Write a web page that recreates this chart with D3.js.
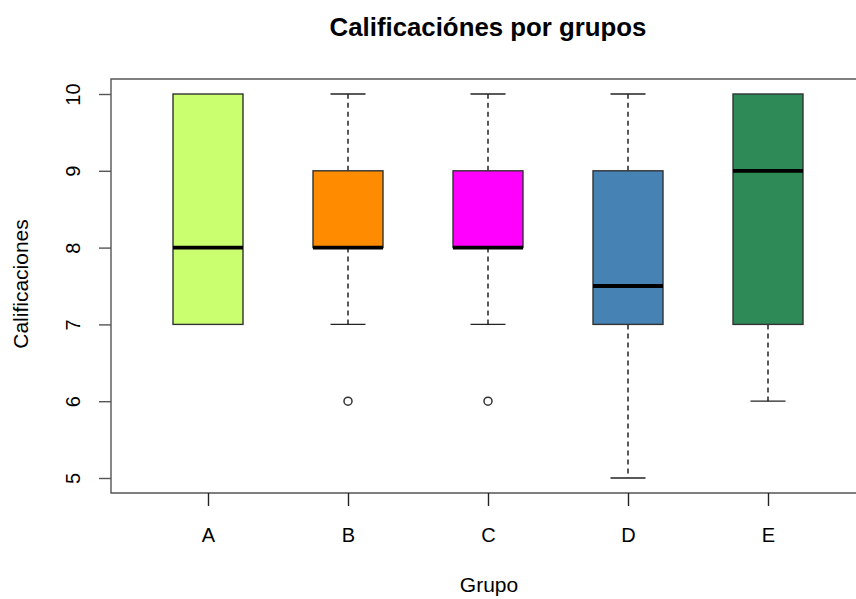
<!DOCTYPE html>
<html><head><meta charset="utf-8">
<script src="https://cdn.jsdelivr.net/npm/d3@7"></script>
<style>body{margin:0;background:#fff}svg{display:block}text{font-family:"Liberation Sans",Arial,sans-serif}</style>
</head><body>
<svg id="c" width="856" height="599"></svg>
<script>
const groups = ["A","B","C","D","E"];
const lowWhisker = [7,7,7,5,6];
const q1 = [7,8,8,7,7];
const median = [8,8,8,7.5,9];
const q3 = [10,9,9,9,10];
const highWhisker = [10,10,10,10,10];
const outliers = [[],[6],[6],[],[]];
const colors = ["#CAFF70","#FF8C00","#FF00FF","#4682B4","#2E8B57"];
const yTicks = [5,6,7,8,9,10];

const svg = d3.select("#c");
const L=111, R=858, T=79, B=493;
const x = d3.scalePoint().domain(groups).range([208,768]);
const y = d3.scaleLinear().domain([5,10]).range([478,94]);
const bw = 70, cw = 35;

groups.forEach((g,i)=>{
  const cx = x(g);
  const gg = svg.append("g");
  if (lowWhisker[i] < q1[i]) {
    gg.append("line").attr("x1",cx).attr("x2",cx).attr("y1",y(q1[i])).attr("y2",y(lowWhisker[i]))
      .attr("stroke","#000").attr("stroke-width",1.3).attr("stroke-dasharray","5,4");
    gg.append("line").attr("x1",cx-cw/2).attr("x2",cx+cw/2).attr("y1",y(lowWhisker[i])).attr("y2",y(lowWhisker[i]))
      .attr("stroke","#222").attr("stroke-width",1.3);
  }
  if (highWhisker[i] > q3[i]) {
    gg.append("line").attr("x1",cx).attr("x2",cx).attr("y1",y(q3[i])).attr("y2",y(highWhisker[i]))
      .attr("stroke","#000").attr("stroke-width",1.3).attr("stroke-dasharray","5,4");
    gg.append("line").attr("x1",cx-cw/2).attr("x2",cx+cw/2).attr("y1",y(highWhisker[i])).attr("y2",y(highWhisker[i]))
      .attr("stroke","#222").attr("stroke-width",1.3);
  }
  gg.append("rect").attr("x",cx-bw/2).attr("y",y(q3[i])).attr("width",bw).attr("height",y(q1[i])-y(q3[i]))
    .attr("fill",colors[i]).attr("stroke","#333").attr("stroke-width",1.4);
  gg.append("line").attr("x1",cx-bw/2).attr("x2",cx+bw/2).attr("y1",y(median[i])).attr("y2",y(median[i]))
    .attr("stroke","#000").attr("stroke-width",3.8);
  outliers[i].forEach(v=>{
    gg.append("circle").attr("cx",cx).attr("cy",y(v)).attr("r",4).attr("fill","none").attr("stroke","#333").attr("stroke-width",1.5);
  });
});

svg.append("path").attr("d",`M${R},${T}H${L}V${B}H${R}`).attr("fill","none").attr("stroke","#555").attr("stroke-width",1.4);

const ya = svg.append("g").attr("transform",`translate(${L},0)`)
  .call(d3.axisLeft(y).tickValues(yTicks).tickSize(12).tickSizeOuter(0).tickFormat(d3.format("d")));
ya.select(".domain").remove();
ya.selectAll("line").attr("stroke","#555").attr("stroke-width",1.4);
ya.selectAll("text").attr("x",null).attr("dy","0.35em")
  .attr("transform","translate(-38.5,0) rotate(-90)").attr("text-anchor","middle")
  .attr("font-size",20).attr("fill","#000");

const xa = svg.append("g").attr("transform",`translate(0,${B})`)
  .call(d3.axisBottom(x).tickSize(13).tickSizeOuter(0));
xa.select(".domain").remove();
xa.selectAll("line").attr("stroke","#222").attr("stroke-width",1.4);
xa.selectAll("text").attr("y",49).attr("dy",null).attr("font-size",20).attr("fill","#000");

svg.append("text").attr("x",488).attr("y",36).attr("text-anchor","middle").attr("font-size",25.8).attr("font-weight","bold").text("Calificaciónes por grupos");
svg.append("text").attr("x",489).attr("y",592).attr("text-anchor","middle").attr("font-size",21).text("Grupo");
svg.append("text").attr("transform","translate(21,284) rotate(-90)").attr("text-anchor","middle").attr("dy","0.35em").attr("font-size",21).text("Calificaciones");
</script>
</body></html>
